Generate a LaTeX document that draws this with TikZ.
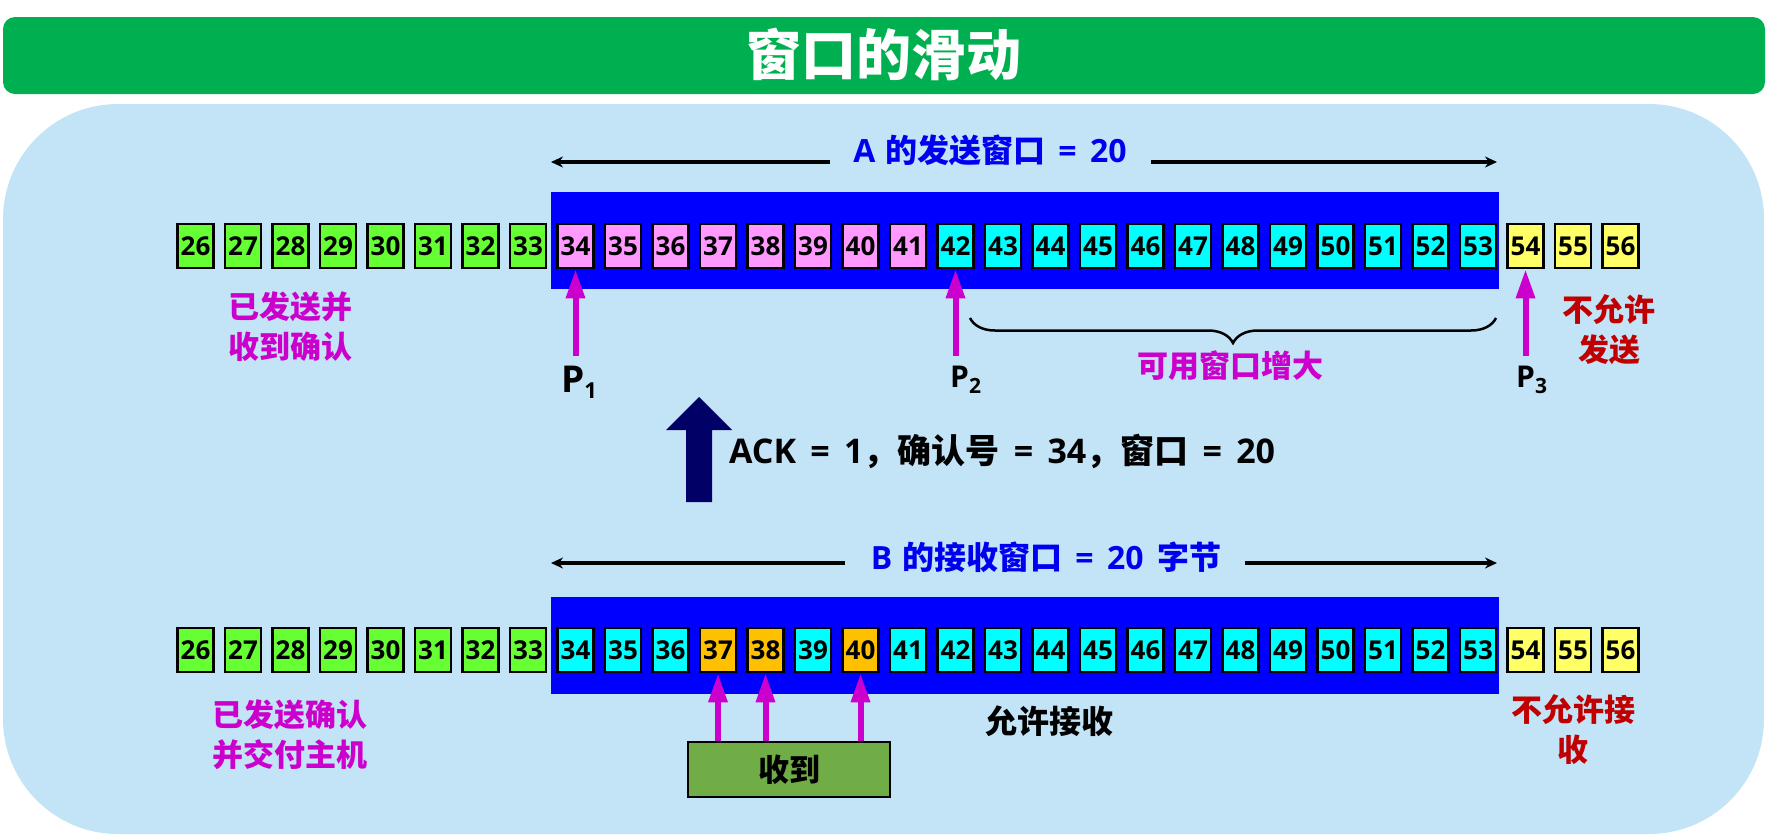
\documentclass[tikz,border=0pt]{standalone}
\usepackage{fontspec}
\setmainfont{Noto Sans CJK SC}
\newfontfamily\latinf{Open Sans}
\newcommand\gap{\hspace{0.42em}}
\usetikzlibrary{arrows.meta,decorations.pathreplacing,calc}
\definecolor{panel}{HTML}{C3E3F7}
\definecolor{titlegreen}{HTML}{00B050}
\definecolor{winblue}{HTML}{0000FF}
\definecolor{cgreen}{HTML}{66FF33}
\definecolor{cpink}{HTML}{FF99FF}
\definecolor{ccyan}{HTML}{00FFFF}
\definecolor{cyellow}{HTML}{FFFF66}
\definecolor{corange}{HTML}{FFC000}
\definecolor{mag}{HTML}{CC00CC}
\definecolor{dred}{HTML}{C00000}
\definecolor{navyc}{HTML}{000066}
\definecolor{olivec}{HTML}{70AD47}
\definecolor{txtblue}{HTML}{0000F0}
\begin{document}
\begin{tikzpicture}[x=1pt,y=-1pt,
  cell/.style={draw=black,line width=2.5pt,minimum width=36pt,minimum height=44pt,inner sep=0pt,
    font=\fontsize{26}{30}\selectfont\latinf\bfseries},
  winrect/.style={fill=winblue,draw=none,minimum width=948pt,minimum height=97pt,inner sep=0pt,anchor=north west},
  parrow/.style={draw=mag,line width=6pt,-{Triangle[length=29pt,width=18pt]}},
  harrow/.style={draw=black,line width=3.5pt,-{Stealth[length=12pt,width=11pt]}},
  winlabel/.style={text=txtblue,font=\fontsize{32}{38}\selectfont\bfseries,inner sep=0pt},
  magtext/.style={text=mag,align=center,font=\fontsize{31}{40}\selectfont\bfseries,inner sep=0pt},
  redtext/.style={text=dred,align=center,font=\fontsize{31}{40}\selectfont\bfseries,inner sep=0pt},
  blacktext/.style={text=black,align=center,font=\fontsize{32}{40}\selectfont\bfseries,inner sep=0pt}
]
\useasboundingbox (0,0) rectangle (1766,836);
% title bar
\fill[titlegreen,rounded corners=12pt] (3,17) rectangle (1765,94);
\node[text=white,font=\fontsize{55}{60}\selectfont\bfseries,inner sep=0pt] (title) at (884,54) {窗口的滑动};
% panel
\fill[panel,rounded corners=115pt] (3,104) rectangle (1764,834);
% window rectangles
\node[winrect] (awin) at (551,192) {};
\node[winrect] (bwin) at (551,597) {};
% top row
\foreach \n in {26,...,33} \node[cell,fill=cgreen] (t\n) at ({195.5+47.5*(\n-26)},246) {\n};
\foreach \n in {34,...,41} \node[cell,fill=cpink] (t\n) at ({195.5+47.5*(\n-26)},246) {\n};
\foreach \n in {42,...,53} \node[cell,fill=ccyan] (t\n) at ({195.5+47.5*(\n-26)},246) {\n};
\foreach \n in {54,55,56} \node[cell,fill=cyellow] (t\n) at ({195.5+47.5*(\n-26)},246) {\n};
% bottom row
\foreach \n in {26,...,33} \node[cell,fill=cgreen] (b\n) at ({195.5+47.5*(\n-26)},650) {\n};
\foreach \n in {34,35,36,39,41,42,43,44,45,46,47,48,49,50,51,52,53} \node[cell,fill=ccyan] (b\n) at ({195.5+47.5*(\n-26)},650) {\n};
\foreach \n in {37,38,40} \node[cell,fill=corange] (b\n) at ({195.5+47.5*(\n-26)},650) {\n};
\foreach \n in {54,55,56} \node[cell,fill=cyellow] (b\n) at ({195.5+47.5*(\n-26)},650) {\n};
% A window label
\coordinate (aL) at (551,162);
\coordinate (aR) at (1497,162);
\coordinate (aM1) at (830,162);
\coordinate (aM2) at (1151,162);
\node[winlabel] (alab) at (990,150) {{\latinf A}\hspace{0.3em}的发送窗口\gap{\latinf =}\gap{\latinf 20}};
\draw[harrow] (aM1) -- (aL);
\draw[harrow] (aM2) -- (aR);
% B window label
\coordinate (bL) at (551,563);
\coordinate (bR) at (1497,563);
\coordinate (bM1) at (845,563);
\coordinate (bM2) at (1245,563);
\node[winlabel] (blab) at (1046,557) {{\latinf B}\hspace{0.3em}的接收窗口\gap{\latinf =}\gap{\latinf 20}\gap 字节};
\draw[harrow] (bM1) -- (bL);
\draw[harrow] (bM2) -- (bR);
% pointers
\coordinate (p1b) at (575.5,356);
\coordinate (p2b) at (955.5,356);
\coordinate (p3b) at (1525.5,356);
\draw[parrow] (p1b) -- (t34.south);
\draw[parrow] (p2b) -- (t42.south);
\draw[parrow] (p3b) -- (t54.south);
\node[anchor=base west,inner sep=0pt] (P1) at (561,392) {\fontsize{37}{40}\selectfont\latinf\bfseries P\raisebox{-6pt}{\fontsize{22}{22}\selectfont 1}};
\node[anchor=base west,inner sep=0pt] (P2) at (950,387) {\fontsize{30}{34}\selectfont\latinf\bfseries P\raisebox{-6pt}{\fontsize{21}{21}\selectfont 2}};
\node[anchor=base west,inner sep=0pt] (P3) at (1516,387) {\fontsize{30}{34}\selectfont\latinf\bfseries P\raisebox{-6pt}{\fontsize{21}{21}\selectfont 3}};
% brace
\draw[line width=2.5pt,decorate,decoration={brace,amplitude=25pt,mirror}] (970,318) -- (1496,318);
\node[magtext] (avail) at (1230,366) {可用窗口增大};
% side texts
\node[magtext] (sentack) at (290,327) {已发送并\\收到确认};
\node[redtext] (nosend) at (1609,330) {不允许\\发送};
\node[magtext] (deliv) at (290,735) {已发送确认\\并交付主机};
\node[redtext] (norecv) at (1573,730) {不允许接\\收};
\node[blacktext] (allow) at (1049,721) {允许接收};
% ACK arrow and text
\fill[navyc] (686,502) -- (686,430) -- (666,430) -- (699,397) -- (732,430) -- (712,430) -- (712,502) -- cycle;
\node[anchor=west,inner sep=0pt,font=\fontsize{34}{38}\selectfont\bfseries] (ack) at (729,451)
  {{\latinf ACK}\gap{\latinf =}\gap{\latinf 1}，确认号\gap{\latinf =}\gap{\latinf 34}，窗口\gap{\latinf =}\gap{\latinf 20}};
% received box
\node[draw=black,line width=2.5pt,fill=olivec,minimum width=202pt,minimum height=55pt,inner sep=0pt,
  font=\fontsize{31}{36}\selectfont\bfseries] (recv) at (789,769.5) {收到};
\draw[parrow] (recv.north -| b37) -- (b37.south);
\draw[parrow] (recv.north -| b38) -- (b38.south);
\draw[parrow] (recv.north -| b40) -- (b40.south);
\end{tikzpicture}
\end{document}
